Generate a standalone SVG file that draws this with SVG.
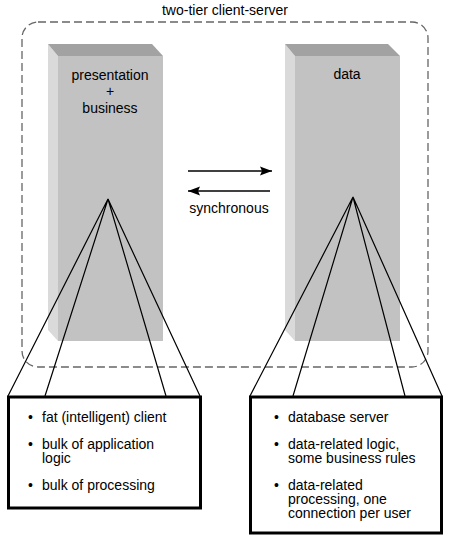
<svg xmlns="http://www.w3.org/2000/svg" width="450" height="542" viewBox="0 0 450 542">
<style>
text{font-family:"Liberation Sans",Arial,sans-serif;font-size:14px;fill:#000}
.c{text-anchor:middle}
.front{fill:#c2c2c2}
.top{fill:#a2a2a2}
.side{fill:#dadada}
.fan{stroke:#000;stroke-width:1.2;fill:none}
.box{fill:#fff;stroke:#000;stroke-width:3}
</style>
<defs>
<marker id="ah" viewBox="0 0 12 10" refX="12" refY="5" markerWidth="12" markerHeight="10" markerUnits="userSpaceOnUse" orient="auto">
<path d="M0,0.5 L12,5 L0,9.5 L2,5 z" fill="#000"/>
</marker>
</defs>
<g id="title"><text class="c" x="225" y="15">two-tier client-server</text></g>
<g id="boundary"><rect x="22" y="22" width="406" height="345" rx="16" ry="16" fill="none" stroke="#666" stroke-width="1.3" stroke-dasharray="8,4"/></g>
<g id="tier-presentation">
<polygon class="side" points="48,44 58,56 58,341 48,330"/>
<polygon class="top" points="48,44 152,44 163,56 58,56"/>
<rect class="front" x="58" y="56" width="105" height="285"/>
<text class="c" x="110" y="80">presentation<tspan x="110" y="96">+</tspan><tspan x="110" y="113">business</tspan></text>
</g>
<g id="tier-data">
<polygon class="side" points="285,44 295,56 295,341 285,330"/>
<polygon class="top" points="285,44 388,44 400,56 295,56"/>
<rect class="front" x="295" y="56" width="105" height="285"/>
<text class="c" x="347" y="79">data</text>
</g>
<g id="connectors">
<line x1="188" y1="171" x2="272" y2="171" stroke="#000" stroke-width="1.5" marker-end="url(#ah)"/>
<line x1="270" y1="191" x2="188" y2="191" stroke="#000" stroke-width="1.5" marker-end="url(#ah)"/>
<text class="c" x="229" y="213">synchronous</text>
<path class="fan" d="M108,199 L8,396 M108,199 L45,396 M108,199 L166,396 M108,199 L200,396"/>
<path class="fan" d="M353,197 L250,396 M353,197 L293,396 M353,197 L405,396 M353,197 L442,396"/>
</g>
<g id="box-client">
<rect class="box" x="8.5" y="397" width="192" height="111"/>
<text x="28" y="422">•</text><text x="42" y="422">fat (intelligent) client</text>
<text x="28" y="449">•</text><text x="42" y="449">bulk of application<tspan x="42" y="463">logic</tspan></text>
<text x="28" y="490">•</text><text x="42" y="490">bulk of processing</text>
</g>
<g id="box-server">
<rect class="box" x="250.5" y="397" width="191" height="136"/>
<text x="274" y="422">•</text><text x="288" y="422">database server</text>
<text x="274" y="449">•</text><text x="288" y="449">data-related logic,<tspan x="288" y="463">some business rules</tspan></text>
<text x="274" y="490">•</text><text x="288" y="490">data-related<tspan x="288" y="504">processing, one</tspan><tspan x="288" y="518">connection per user</tspan></text>
</g>
</svg>
